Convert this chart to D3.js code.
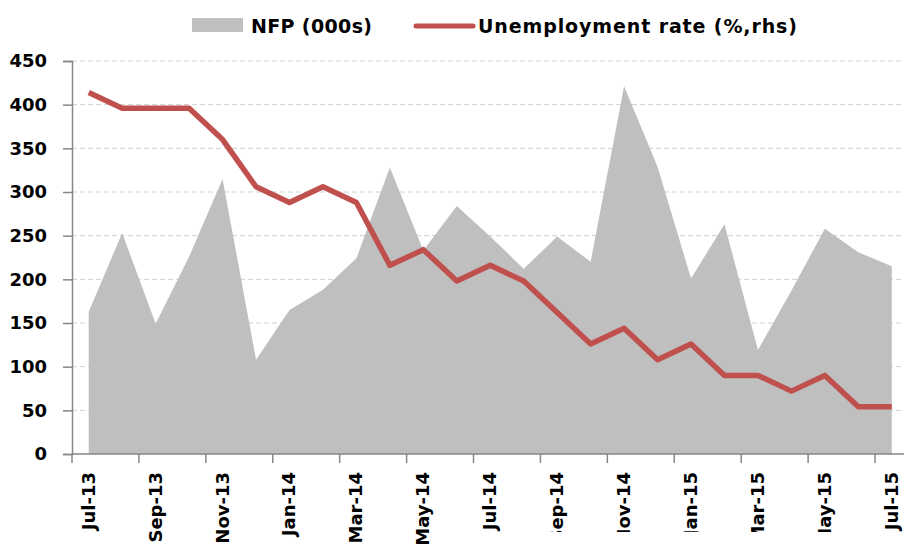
<!DOCTYPE html>
<html>
<head>
<meta charset="utf-8">
<script src="https://cdn.jsdelivr.net/npm/d3@7"></script>
<style>
  body { margin: 0; background: #fff; }
  svg { display: block; font-family: "DejaVu Sans", sans-serif; font-weight: bold; }
</style>
</head>
<body>
<div id="chart"></div>
<script>
const months = ['Jul-13', 'Aug-13', 'Sep-13', 'Oct-13', 'Nov-13', 'Dec-13',
    'Jan-14', 'Feb-14', 'Mar-14', 'Apr-14', 'May-14', 'Jun-14',
    'Jul-14', 'Aug-14', 'Sep-14', 'Oct-14', 'Nov-14', 'Dec-14',
    'Jan-15', 'Feb-15', 'Mar-15', 'Apr-15', 'May-15', 'Jun-15', 'Jul-15'];

// non-farm payrolls, thousands
const nfp = [163, 253, 149, 226, 315, 108,
    165, 188, 224, 328, 233, 284,
    249, 212, 249, 220, 421, 329,
    201, 263, 119, 187, 258, 231, 215];

// unemployment rate, % (right-hand scale)
const unemployment = [7.3, 7.2, 7.2, 7.2, 7.0, 6.7,
    6.6, 6.7, 6.6, 6.2, 6.3, 6.1,
    6.2, 6.1, 5.9, 5.7, 5.8, 5.6,
    5.7, 5.5, 5.5, 5.4, 5.5, 5.3, 5.3];

const yTicks = [0, 50, 100, 150, 200, 250, 300, 350, 400, 450];

const width = 904, height = 547;
const plotLeft = 72, plotTop = 61, plotBottom = 454, plotRight = 908.5;

const svg = d3.select('#chart')
    .append('svg')
    .attr('width', width)
    .attr('height', height);

const x = d3.scaleBand()
    .domain(months)
    .range([plotLeft, plotRight])
    .padding(0);

const y = d3.scaleLinear()
    .domain([0, 450])
    .range([plotBottom, plotTop]);

// rhs scale, its axis is cut off in the picture
const y2 = d3.scaleLinear()
    .domain([5.0, 7.5])
    .range([plotBottom, plotTop]);

const cx = d => x(d) + x.bandwidth() / 2;

// gridlines
svg.append('g')
    .selectAll('line')
    .data(yTicks.filter(t => t > 0))
    .join('line')
    .attr('x1', plotLeft)
    .attr('x2', width)
    .attr('y1', d => y(d))
    .attr('y2', d => y(d))
    .attr('stroke', '#cfcfcf')
    .attr('stroke-width', 1)
    .attr('stroke-dasharray', '5,3');

// NFP area
const area = d3.area()
    .x((d, i) => cx(months[i]))
    .y0(y(0))
    .y1(d => y(d));

svg.append('path')
    .datum(nfp)
    .attr('d', area)
    .attr('fill', '#bfbfbf');

// unemployment line
const line = d3.line()
    .x((d, i) => cx(months[i]))
    .y(d => y2(d));

svg.append('path')
    .datum(unemployment)
    .attr('d', line)
    .attr('fill', 'none')
    .attr('stroke', '#c0504d')
    .attr('stroke-width', 5.5)
    .attr('stroke-linejoin', 'round');

// left axis
const yAxis = d3.axisLeft(y)
    .tickValues(yTicks)
    .tickSize(9)
    .tickPadding(16);

const gy = svg.append('g')
    .attr('transform', `translate(${plotLeft},0)`)
    .call(yAxis);
gy.select('.domain').attr('stroke', '#868686').attr('stroke-width', 1.5);
gy.selectAll('.tick line').attr('stroke', '#868686').attr('stroke-width', 1.5);
gy.selectAll('.tick text')
    .attr('fill', '#000')
    .style('font-size', '18px')
    .style('font-family', '"DejaVu Sans", sans-serif')
    .style('font-weight', 'bold');

// bottom axis: ticks on category boundaries every 2 months
const gx = svg.append('g');
gx.append('line')
    .attr('x1', plotLeft)
    .attr('x2', width)
    .attr('y1', plotBottom)
    .attr('y2', plotBottom)
    .attr('stroke', '#868686')
    .attr('stroke-width', 1.5);

const shown = months.filter((m, i) => i % 2 === 0);

gx.selectAll('.xtick')
    .data(shown)
    .join('line')
    .attr('class', 'xtick')
    .attr('x1', d => x(d))
    .attr('x2', d => x(d))
    .attr('y1', plotBottom)
    .attr('y2', plotBottom + 9)
    .attr('stroke', '#868686')
    .attr('stroke-width', 1.5);

gx.selectAll('.xlabel')
    .data(shown)
    .join('text')
    .attr('class', 'xlabel')
    .attr('transform', d => `translate(${cx(d) + 6},${472}) rotate(-90)`)
    .attr('text-anchor', 'end')
    .style('font-size', '18px')
    .attr('fill', '#000')
    .text(d => d);

// the source image is cropped along the bottom right
svg.append('rect')
    .attr('x', 540)
    .attr('y', 532)
    .attr('width', width - 540)
    .attr('height', height - 532)
    .attr('fill', '#fff');

// legend
const legend = svg.append('g');
legend.append('rect')
    .attr('x', 192)
    .attr('y', 18)
    .attr('width', 51)
    .attr('height', 14)
    .attr('fill', '#bfbfbf');
legend.append('text')
    .attr('x', 251)
    .attr('y', 33)
    .attr('textLength', 121)
    .attr('lengthAdjust', 'spacing')
    .style('font-size', '19px')
    .attr('fill', '#000')
    .text('NFP (000s)');
legend.append('line')
    .attr('x1', 416)
    .attr('x2', 473)
    .attr('y1', 26)
    .attr('y2', 26)
    .attr('stroke', '#c0504d')
    .attr('stroke-width', 5)
    .attr('stroke-linecap', 'round');
legend.append('text')
    .attr('x', 478)
    .attr('y', 33)
    .attr('textLength', 319)
    .attr('lengthAdjust', 'spacing')
    .style('font-size', '19px')
    .attr('fill', '#000')
    .text('Unemployment rate (%,rhs)');
</script>
</body>
</html>
